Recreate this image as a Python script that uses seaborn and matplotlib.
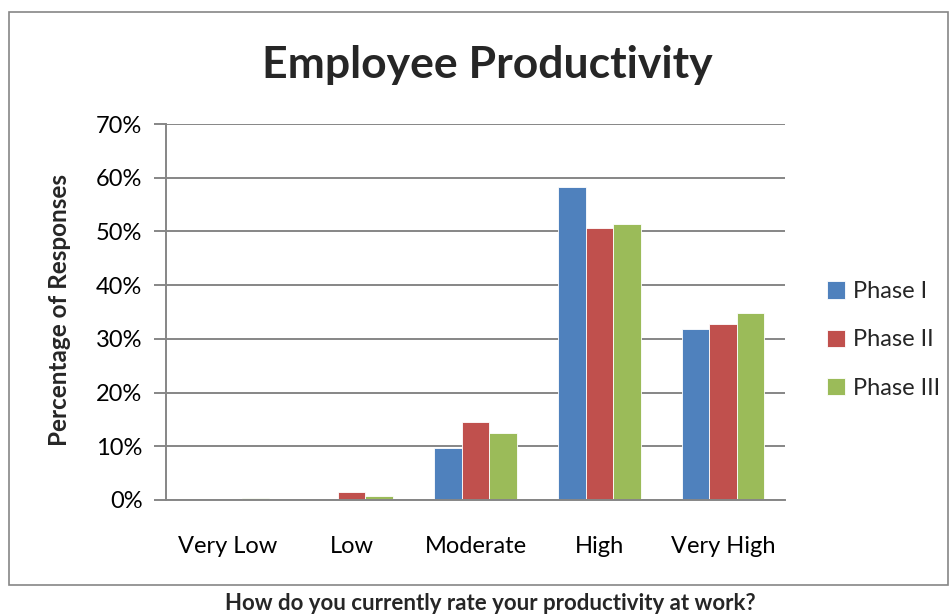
import matplotlib
matplotlib.use("Agg")
import matplotlib.pyplot as plt
import seaborn as sns
import pandas as pd
from matplotlib.patches import Rectangle
from matplotlib.ticker import PercentFormatter

categories = ["Very Low", "Low", "Moderate", "High", "Very High"]
phases = ["Phase I", "Phase II", "Phase III"]
phase1 = [0.0, 0.0, 9.7, 58.3, 31.9]
phase2 = [0.0, 1.5, 14.6, 50.7, 32.8]
phase3 = [0.3, 0.8, 12.5, 51.4, 34.9]
colors = ["#4F81BD", "#C0504D", "#9BBB59"]

rows = []
for ph, vals in zip(phases, [phase1, phase2, phase3]):
    for c, v in zip(categories, vals):
        rows.append({"Rating": c, "Phase": ph, "Value": v / 100.0})
df = pd.DataFrame(rows)

sns.set_theme(style="white")
plt.rcParams['font.family'] = ['Lato', 'DejaVu Sans']

W, H = 951, 614
fig = plt.figure(figsize=(W/100, H/100), dpi=100)
ax = fig.add_axes([166/W, 1-500/H, (785-166)/W, (500-124)/H])

sns.barplot(data=df, x="Rating", y="Value", hue="Phase", order=categories,
            hue_order=phases, palette=colors, width=3/4.5, ax=ax,
            saturation=1, edgecolor="white", linewidth=0.6, errorbar=None)

ax.set_ylim(0, 0.7)
ax.set_xlim(-0.5, 4.5)
ax.set_yticks([i/10 for i in range(8)])
ax.yaxis.set_major_formatter(PercentFormatter(1.0, decimals=0))
ax.grid(axis="y", color="#868686", linewidth=1.4)
ax.set_axisbelow(True)
for s in ["top", "right"]:
    ax.spines[s].set_visible(False)
for s in ["left", "bottom"]:
    ax.spines[s].set_color("#868686")
    ax.spines[s].set_linewidth(1.4)
ax.tick_params(axis="y", length=9, width=1.4, color="#868686", left=True,
               labelsize=17, pad=8, labelcolor="black")
ax.tick_params(axis="x", length=0, labelsize=17, pad=26, labelcolor="black")
ax.set_xlabel("")
ax.set_ylabel("")
fig.text(60/W, 1-310/H, "Percentage of Responses", rotation=90, ha="center",
         va="center", fontsize=17.5, fontweight="bold")

ax.legend(loc="center left", frameon=False, fontsize=17,
          handlelength=0.75, handleheight=0.75, handletextpad=0.35,
          labelspacing=1.15, borderpad=0, borderaxespad=0)
leg = ax.get_legend()
leg.set_bbox_to_anchor((827/W, 1-340/H), transform=fig.transFigure)

fig.text(487/W, 1-65/H, "Employee Productivity", ha="center", va="center",
         fontsize=32, fontweight="bold")
fig.text(490/W, 1-603/H, "How do you currently rate your productivity at work?",
         ha="center", va="center", fontsize=16, fontweight="bold")

fig.patches.append(Rectangle((9/W, 1-585/H), (948-9)/W, (585-12)/H,
                             transform=fig.transFigure, fill=False,
                             edgecolor="#868686", linewidth=1.2))

fig.savefig("out.png", dpi=100, facecolor="white")
